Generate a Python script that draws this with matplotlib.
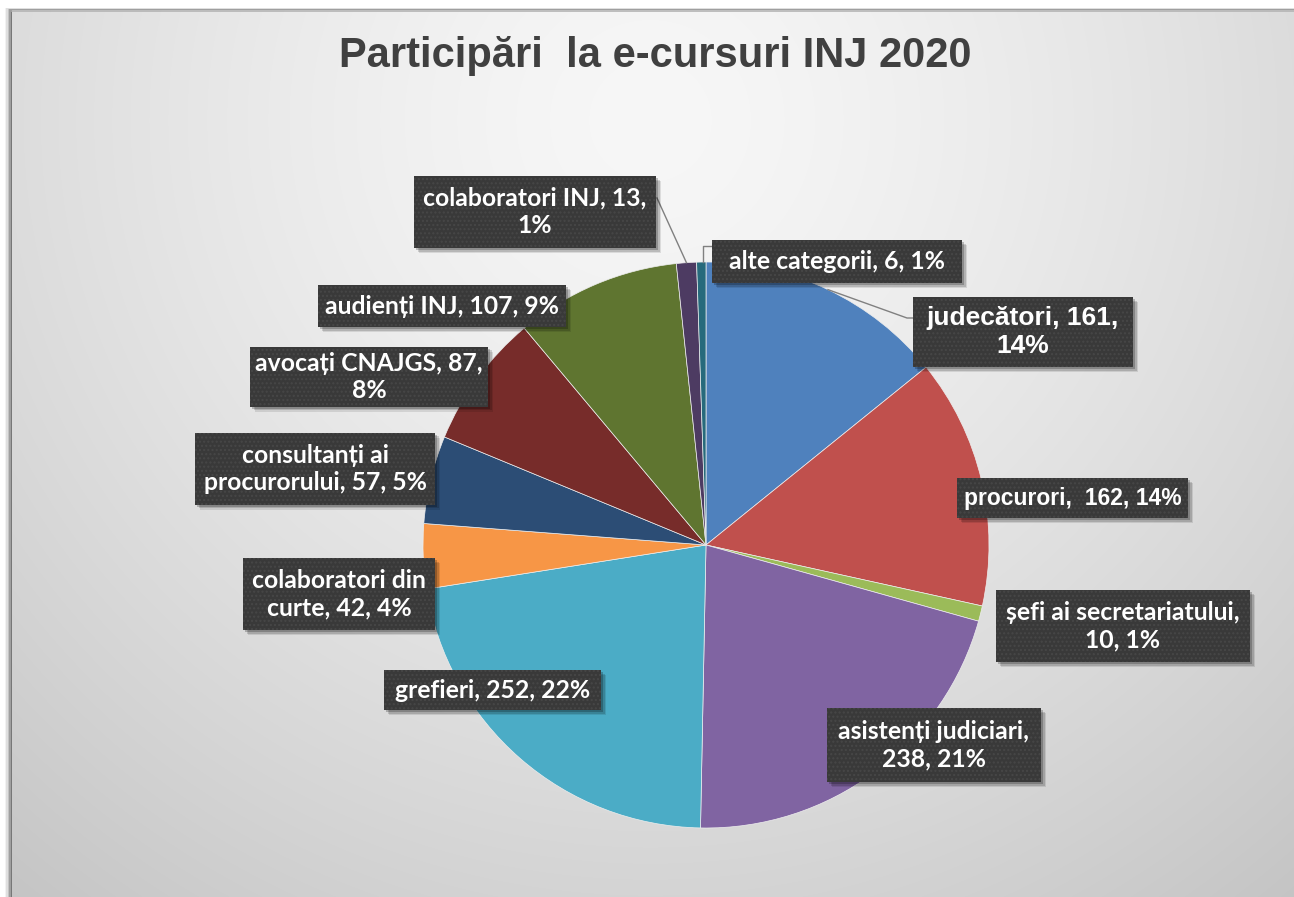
import numpy as np
import matplotlib
matplotlib.use("Agg")
import matplotlib.pyplot as plt
from matplotlib.patches import Rectangle

# ---------------- data ----------------
categories = ["judecători", "procurori", "șefi ai secretariatului", "asistenți judiciari",
              "grefieri", "colaboratori din curte", "consultanți ai procurorului",
              "avocați CNAJGS", "audienți INJ", "colaboratori INJ", "alte categorii"]
values = [161, 162, 10, 238, 252, 42, 57, 87, 107, 13, 6]
colors = ["#4F81BD", "#C0504D", "#9BBB59", "#8064A2", "#4BACC6", "#F79646",
          "#2C4D75", "#772C2A", "#5F7530", "#4D3B62", "#276A7C"]
title = "Participări  la e-cursuri INJ 2020"

# ---------------- layout (pixels, y from top) ----------------
W, H = 1294, 897
CX, CY, R = 706, 545, 283
# label boxes: (x0, y0, x1, y1)
boxes = [(913, 297, 1133, 367), (957, 478, 1188, 518), (996, 590, 1250, 662),
         (827, 708, 1041, 782), (384, 670, 601, 710), (243, 558, 435, 630),
         (195, 433, 435, 505), (250, 347, 488, 407), (318, 285, 566, 327),
         (414, 176, 656, 248), (712, 240, 962, 283)]
wraps = ["161, ", None, "secretariatului, ", "judiciari, ", None, "din ", "ai ",
         "87, ", None, "13, ", None]
seps = [", ", ",  ", ", ", ", ", ", ", ", ", ", ", ", ", ", ", ", ", ", "]
label_fonts = [("Liberation Sans", 19.0), ("Liberation Sans", 16.5)] + [("Lato", 17.8)] * 9

fig = plt.figure(figsize=(W / 100, H / 100), dpi=100)
fig.patch.set_facecolor("white")
ax = fig.add_axes([0, 0, 1, 1])
ax.set_xlim(0, W)
ax.set_ylim(0, H)
ax.set_axis_off()


def fy(y):
    return H - y


# frame shadow (left side)
for i, a in enumerate([0.05, 0.08, 0.12, 0.18, 0.25]):
    off = 7 - i * 1.4
    ax.add_patch(Rectangle((12 - off, 0), W + 20, fy(10 - off * 0.3), facecolor="black",
                           alpha=a, lw=0, zorder=0))

# gradient background
gx, gy = np.meshgrid(np.arange(12, W + 1), np.arange(10, H + 1))
d = np.sqrt((gx - 650) ** 2 + (gy - 120) ** 2) / 1000.0
g = 247 - 50 * d ** 1.4
g = np.clip(g, 180, 250) / 255.0
img = np.dstack([g, g, g])
ax.imshow(img, extent=(12, W + 1, fy(H + 1), fy(10)), origin="upper", zorder=1,
          interpolation="bilinear")
ax.plot([12, W + 2], [fy(10.5), fy(10.5)], color="#b4b4b4", lw=1.2, zorder=2)

# title
ax.text(655, fy(56), title, ha="center", va="center", fontsize=30,
        fontweight="bold", color="#404040", family="Liberation Sans", zorder=5)

# pie
wedges, _ = ax.pie(values, colors=colors, startangle=90, counterclock=False,
                   center=(CX, fy(CY)), radius=R,
                   wedgeprops=dict(edgecolor="#eeeeee", linewidth=0.5))
for w in wedges:
    w.set_zorder(3)
ax.set_xlim(0, W)
ax.set_ylim(0, H)
ax.set_aspect("equal")
ax.set_axis_off()


def edge_point(w):
    m = np.deg2rad((w.theta1 + w.theta2) / 2)
    return CX + R * np.cos(m), fy(CY) + R * np.sin(m)


# leader lines
lc = "#808080"
ex, ey = edge_point(wedges[0])
ax.plot([ex, 907, 913], [ey, fy(318), fy(318)], color=lc, lw=1, zorder=4)
ex, ey = edge_point(wedges[9])
ax.plot([ex, 657], [ey, fy(198)], color=lc, lw=1, zorder=4)
ex, ey = edge_point(wedges[10])
ax.plot([ex + 1.5, ex + 1.5, 712], [ey, fy(246), fy(246)], color=lc, lw=1, zorder=4)

# labels
total = sum(values)
for i, (name, v) in enumerate(zip(categories, values)):
    pct = int(round(100 * v / total))
    txt = f"{name}{seps[i]}{v}, {pct}%"
    if wraps[i]:
        txt = txt.replace(wraps[i], wraps[i].rstrip() + "\n", 1)
    x0, y0, x1, y1 = boxes[i]
    for k, a in enumerate([0.10, 0.15, 0.22]):
        o = 5 - k * 1.5
        ax.add_patch(Rectangle((x0 + o, fy(y1) - o), x1 - x0, y1 - y0,
                               facecolor="black", alpha=a, lw=0, zorder=5))
    ax.add_patch(Rectangle((x0, fy(y1)), x1 - x0, y1 - y0, facecolor="#393939",
                           edgecolor="#474747", hatch="....", lw=0, zorder=6))
    fam, fs = label_fonts[i]
    ax.text((x0 + x1) / 2, fy((y0 + y1) / 2), txt, ha="center", va="center",
            fontsize=fs, fontweight="bold", color="white", family=fam,
            linespacing=1.22, zorder=7)

fig.savefig("out.png", dpi=100)
